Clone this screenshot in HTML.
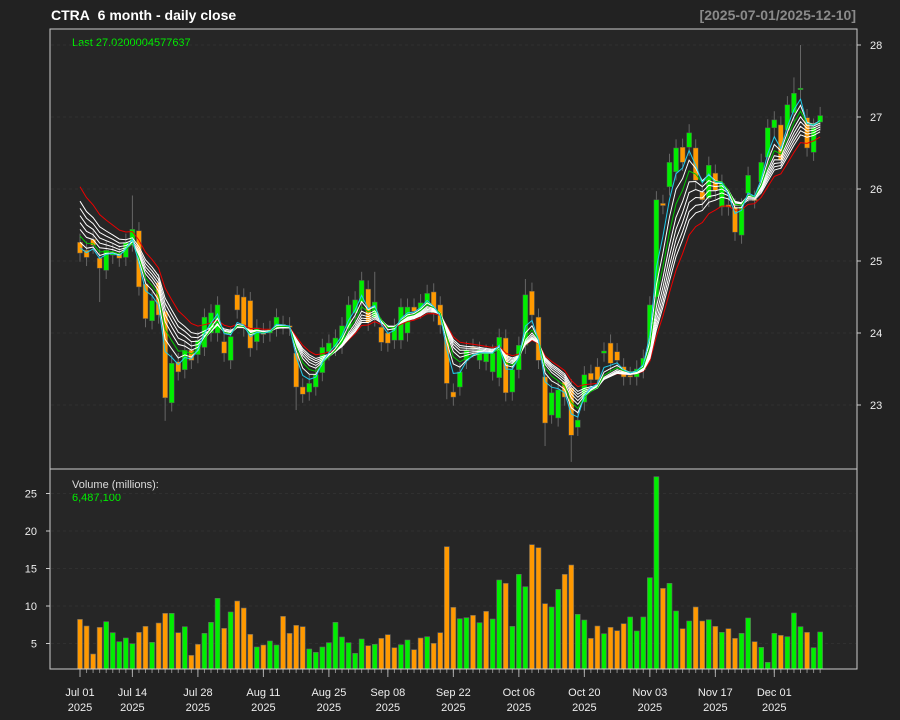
<!DOCTYPE html>
<html><head><meta charset="utf-8">
<style>
html,body{margin:0;padding:0;background:#222222;}
svg{display:block;font-family:"Liberation Sans",sans-serif;}
</style></head>
<body>
<svg id="c" width="900" height="720" viewBox="0 0 900 720" xmlns="http://www.w3.org/2000/svg">
<rect x="0" y="0" width="900" height="720" fill="#222222"/>
<rect x="50" y="29" width="807" height="640" fill="#262626"/>
<text x="51" y="20" fill="#ffffff" font-size="14" font-weight="bold">CTRA&#160;&#160;6 month - daily close</text>
<text x="856" y="20" fill="#8a8a8a" font-size="14" font-weight="bold" text-anchor="end">[2025-07-01/2025-12-10]</text>
<text x="72" y="46" fill="#00ee00" font-size="11">Last 27.0200004577637</text>
<text x="72" y="488" fill="#dddddd" font-size="11">Volume (millions):</text>
<text x="72" y="501" fill="#00ee00" font-size="11">6,487,100</text>
<g id="g"></g>
<rect x="50" y="29" width="807" height="440" fill="none" stroke="#cccccc" stroke-width="1"/>
<rect x="50" y="469" width="807" height="200" fill="none" stroke="#cccccc" stroke-width="1"/>
</svg>
<script>
var C=[[25.26,25.11],[25.15,25.05],[25.3,25.22],[25.04,24.9],[24.87,25.15],[25.08,25.12],[25.1,25.04],[25.05,25.26],[25.25,25.44],[25.42,24.64],[24.68,24.2],[24.17,24.45],[24.7,24.25],[24.3,23.1],[23.03,23.58],[23.6,23.46],[23.49,23.76],[23.76,23.62],[23.7,23.9],[23.8,24.22],[24.0,24.28],[24.0,24.39],[23.88,23.72],[23.62,23.95],[24.53,24.32],[24.5,24.07],[24.45,23.79],[23.88,24.07],[24.02,23.98],[24.0,24.05],[24.07,24.22],[24.12,24.1],[24.1,24.08],[23.72,23.25],[23.25,23.15],[23.18,23.3],[23.25,23.42],[23.45,23.8],[23.74,23.86],[23.8,23.93],[23.83,24.1],[24.07,24.39],[24.28,24.46],[24.43,24.73],[24.61,24.15],[24.21,24.43],[24.08,23.87],[24.0,23.86],[23.9,24.08],[23.9,24.36],[24.0,24.36],[24.36,24.3],[24.32,24.42],[24.39,24.55],[24.57,24.28],[24.39,24.11],[23.94,23.3],[23.18,23.11],[23.25,23.46],[23.62,23.76],[23.8,23.78],[23.62,23.76],[23.6,23.72],[23.46,23.72],[23.38,23.94],[23.93,23.17],[23.18,23.49],[23.49,23.83],[23.83,24.53],[24.58,24.25],[24.22,23.62],[23.39,22.75],[22.86,23.17],[22.82,23.21],[23.32,23.11],[23.24,22.58],[22.69,22.79],[23.04,23.42],[23.44,23.35],[23.53,23.35],[23.72,23.75],[23.86,23.58],[23.74,23.62],[23.53,23.39],[23.41,23.4],[23.39,23.5],[23.49,23.65],[23.76,24.39],[24.5,25.85],[25.8,25.77],[26.03,26.37],[26.24,26.57],[26.58,26.37],[26.58,26.78],[26.57,26.12],[25.96,25.85],[25.87,26.33],[26.22,25.98],[25.75,26.08],[25.78,25.75],[25.75,25.4],[25.36,25.75],[25.94,26.19],[25.86,25.85],[26.1,26.37],[26.44,26.85],[26.85,26.96],[26.89,26.4],[26.82,27.17],[27.06,27.33],[27.38,27.4],[26.99,26.57],[26.51,26.86],[26.93,27.02]];
var VY=[448,468,552,472,455,488,515,504,521,487,469,517,459,430,430,488,470,556,523,490,457,385,475,426,393,414,493,531,525,513,525,439,490,466,470,537,547,531,518,457,501,518,550,507,527,523,505,494,533,524,510,539,504,500,520,488,230];
var V2=[412,446,443,436,458,424,447,330,340,469,313,350,224,233,401,411,358,313,285,433,450,505,468,491,472,482,461,441,483,441,323,20,355,340,423,476,453,411,453,449,469,487,476,505,490,444,515,532,577,490,496,500,429,470,487,533,486];
var cols1=["o","o","o","o","g","g","g","g","g","o","o","g","o","o","g","o","g","o","o","g","g","g","o","g","o","o","o","g","o","g","g","o","o","o","o","g","g","g","g","g","g","g","g","g","o","g","o","o","o","g","g","o","o","g","o","o","o"];
var cols2=["o","g","g","o","g","o","g","g","o","g","g","g","o","o","o","g","g","o","o","g","g","o","o","g","o","o","o","g","g","g","g","g","o","g","g","o","g","o","o","g","o","g","o","o","g","g","o","g","g","g","o","g","g","g","o","g","g"];
var N=114, X=function(i){return 80+i*6.55;}, Y=function(p){return 261-(p-25)*72;};
var s="";
[28,27,26,25,24,23].forEach(function(p){var y=Y(p);s+='<line x1="51" x2="856" y1="'+y+'" y2="'+y+'" stroke="#303030" stroke-dasharray="3,3"/>';s+='<line x1="857" x2="861" y1="'+y+'" y2="'+y+'" stroke="#cccccc"/><text x="870" y="'+(y+4)+'" fill="#eeeeee" font-size="11">'+p+'</text>';});
[25,20,15,10,5].forEach(function(v){var y=681-v*7.5;s+='<line x1="51" x2="856" y1="'+y+'" y2="'+y+'" stroke="#303030" stroke-dasharray="3,3"/>';s+='<line x1="46" x2="50" y1="'+y+'" y2="'+y+'" stroke="#cccccc"/><text x="37" y="'+(y+4)+'" fill="#eeeeee" font-size="11" text-anchor="end">'+v+'</text>';});
var vy=VY.concat(V2), vc=cols1.concat(cols2);
for(var i=0;i<N;i++){var zy=vy[i];var y=470+zy/3;var x=X(i);var col=vc[i]=="g"?"#00ee00":"#ff9900";s+='<rect x="'+(x-2.5)+'" y="'+y+'" width="5" height="'+(669-y)+'" fill="'+col+'" stroke="#666" stroke-width="0.6"/>';}
var ns=[[12,"#ee0000"],[10,"#ffffff"],[9,"#ffffff"],[8,"#ffffff"],[7,"#ffffff"],[6,"#ffffff"],[4,"#ffffff"],[5,"#00cc00"],[3,"#22ccee"]];
var cl=C.map(function(d){return d[1];});
var ma="";
ns.forEach(function(nc){var n=nc[0],a=2/(n+1),e=25.15+(n-2)*0.105,pts=[];for(var i=0;i<N;i++){e=e+a*(cl[i]-e);pts.push(X(i).toFixed(1)+","+Y(e).toFixed(1));}
ma+='<polyline points="'+pts.join(" ")+'" fill="none" stroke="'+nc[1]+'" stroke-width="1"/>';});
var longs={3:[0,0.35],8:[0.35,0],13:[0,0.2],75:[0,0.25],110:[0.48,0],109:[0.1,0],71:[0,0.2],33:[0,0.2],68:[0.1,0],56:[0,0.1],45:[0.3,0]};
var cs="";
for(var i=0;i<N;i++){var o=C[i][0],c=C[i][1],hi=Math.max(o,c)+0.12,lo=Math.min(o,c)-0.12;if(longs[i]){hi+=longs[i][0];lo-=longs[i][1];}
var x=X(i),col=c>=o?"#00ee00":"#ff9900";
cs+='<line x1="'+x+'" x2="'+x+'" y1="'+Y(hi)+'" y2="'+Y(lo)+'" stroke="#666666"/>';
var yt=Y(Math.max(o,c)),yb=Y(Math.min(o,c));if(yb-yt<1.5){yb=yt+1.5;}
cs+='<rect x="'+(x-2.5)+'" y="'+yt+'" width="5" height="'+(yb-yt)+'" fill="'+col+'" stroke="#555" stroke-width="0.5"/>';}
s+=cs+ma;
for(var i=0;i<N;i++){var x=X(i);s+='<line x1="'+x+'" x2="'+x+'" y1="669" y2="673" stroke="#888"/>';}
var L=[[0,"Jul 01"],[8,"Jul 14"],[18,"Jul 28"],[28,"Aug 11"],[38,"Aug 25"],[47,"Sep 08"],[57,"Sep 22"],[67,"Oct 06"],[77,"Oct 20"],[87,"Nov 03"],[97,"Nov 17"],[106,"Dec 01"]];
L.forEach(function(l){var x=X(l[0]);s+='<line x1="'+x+'" x2="'+x+'" y1="669" y2="677" stroke="#aaaaaa"/><text x="'+x+'" y="696" fill="#eeeeee" font-size="11" text-anchor="middle">'+l[1]+'</text><text x="'+x+'" y="711" fill="#eeeeee" font-size="11" text-anchor="middle">2025</text>';});
document.getElementById("g").innerHTML=s;
</script>
</body></html>
